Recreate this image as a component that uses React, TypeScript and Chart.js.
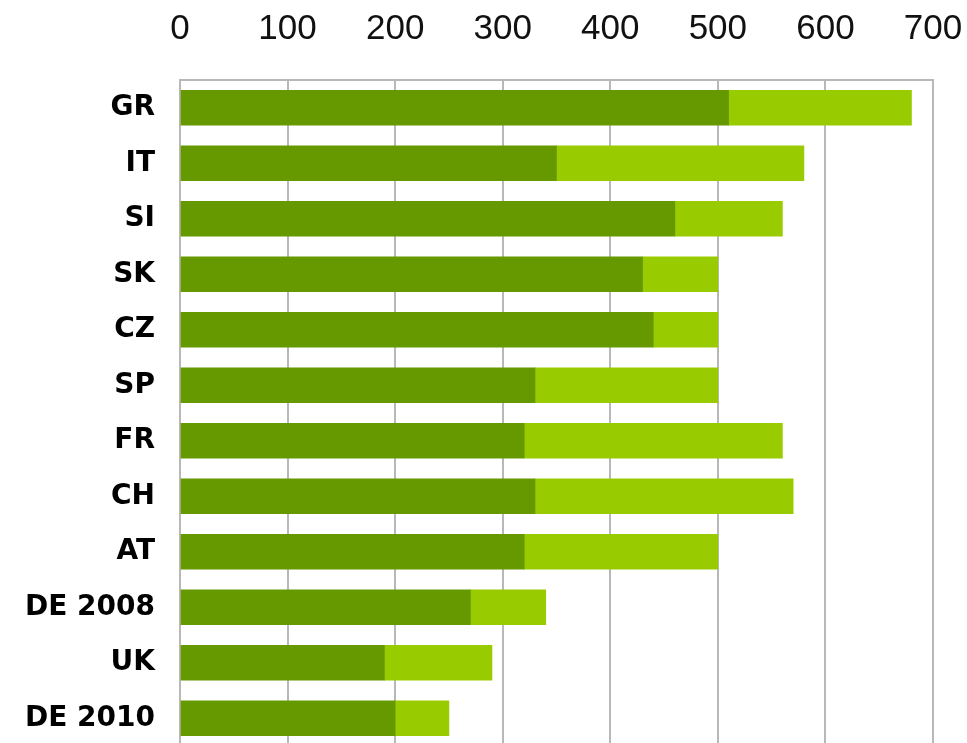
import React, { useEffect, useRef } from "react";
import { Chart, registerables } from "chart.js";

Chart.register(...registerables);

const categories = ["GR", "IT", "SI", "SK", "CZ", "SP", "FR", "CH", "AT", "DE 2008", "UK", "DE 2010"];
const darkValues = [510, 350, 460, 430, 440, 330, 320, 330, 320, 270, 190, 200];
const lightValues = [170, 230, 100, 70, 60, 170, 240, 240, 180, 70, 100, 50];
const xTicks = [0, 100, 200, 300, 400, 500, 600, 700];

export default function App() {
  const canvasRef = useRef<HTMLCanvasElement | null>(null);

  useEffect(() => {
    if (!canvasRef.current) return;
    const chart = new Chart(canvasRef.current, {
      type: "bar",
      data: {
        labels: categories,
        datasets: [
          {
            label: "dark",
            data: darkValues,
            backgroundColor: "#669900",
            borderWidth: 0,
            barThickness: 35,
          },
          {
            label: "light",
            data: lightValues,
            backgroundColor: "#99cc00",
            borderWidth: 0,
            barThickness: 35,
          },
        ],
      },
      options: {
        indexAxis: "y",
        animation: false,
        responsive: false,
        maintainAspectRatio: false,
        layout: { padding: { left: 0, right: 34, top: 0, bottom: 0 } },
        plugins: {
          legend: { display: false },
          tooltip: { enabled: false },
        },
        scales: {
          x: {
            position: "top",
            stacked: true,
            min: 0,
            max: 700,
            afterBuildTicks: (scale: any) => {
              scale.ticks = xTicks.map((v) => ({ value: v }));
            },
            afterFit: (scale: any) => {
              scale.height = 80;
              scale.paddingLeft = 0;
              scale.paddingRight = 0;
              scale.paddingTop = 0;
              scale.paddingBottom = 0;
            },
            grid: {
              display: true,
              color: "#b8b8b8",
              lineWidth: 2,
              drawTicks: false,
            },
            border: { display: true, color: "#b8b8b8", width: 2 },
            ticks: {
              padding: 30,
              color: "#111111",
              font: { family: "'Liberation Sans', Arial, sans-serif", size: 35 },
            },
          },
          y: {
            stacked: true,
            afterFit: (scale: any) => {
              scale.width = 180;
              scale.paddingLeft = 0;
              scale.paddingRight = 0;
              scale.paddingTop = 0;
              scale.paddingBottom = 0;
            },
            grid: { display: false, drawTicks: false },
            border: { display: true, color: "#b8b8b8", width: 2 },
            ticks: {
              padding: 25,
              color: "#000000",
              font: { family: "'DejaVu Sans', sans-serif", size: 28, weight: "bold" },
            },
          },
        },
      },
    });
    return () => chart.destroy();
  }, []);

  return (
    <div
      style={{
        position: "fixed",
        left: 0,
        top: 0,
        width: 967,
        height: 743,
        overflow: "hidden",
        background: "#ffffff",
      }}
    >
      <canvas ref={canvasRef} width={967} height={746} style={{ display: "block", width: 967, height: 746 }} />
    </div>
  );
}
